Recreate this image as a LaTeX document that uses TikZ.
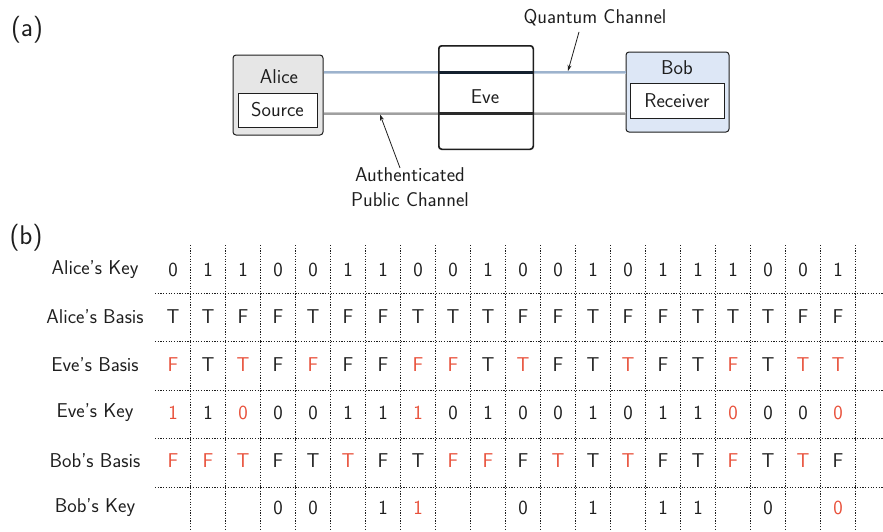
\documentclass[tikz,border=0pt]{standalone}
\usetikzlibrary{arrows.meta}

\definecolor{alicefill}{HTML}{E6E6E6}
\definecolor{bobfill}{HTML}{DDE7F6}
\definecolor{quantumline}{HTML}{9DB3CD}
\definecolor{classicline}{HTML}{A0A0A0}
\definecolor{quantumdark}{HTML}{14202E}
\definecolor{classicdark}{HTML}{2A2A2A}
\definecolor{errred}{HTML}{E8503A}
\definecolor{ink}{HTML}{1E1E1E}

% a table entry that differs from the sender's value
\newcommand\flip[1]{\textcolor{errred}{#1}}

% one row of the sifting table: id, y, label, values
\newcommand\tablerow[4]{%
  \node[rowlabel] (#1) at (95,#2) {#3};
  \foreach \v [count=\c] in {#4} {
    \node[cell] (#1-\c) at ({138+35*\c},#2) {\v};
  }
}

\begin{document}
\begin{tikzpicture}[x=1pt,y=-1pt,
  font=\sffamily\fontsize{20}{25}\selectfont, text=ink,
  party/.style={draw=ink, line width=1pt, rounded corners=3pt, inner sep=0pt},
  device/.style={draw=ink, fill=white, line width=0.9pt, inner sep=0pt},
  cell/.style={inner sep=0pt, anchor=center},
  rowlabel/.style={inner sep=0pt, anchor=center},
  gridline/.style={draw=ink, line width=0.85pt, dash pattern=on 1.2pt off 1.5pt},
  pointer/.style={draw=ink, line width=0.8pt, -{Stealth[length=6pt,width=4pt]}},
  panel/.style={font=\sffamily\fontsize{27}{30}\selectfont}]
\useasboundingbox (0,0) rectangle (883,531);

% ---------- (a) the QKD set-up ----------
\node[panel] (pa) at (27,30) {(a)};

\node[party, fill=alicefill, minimum width=90pt, minimum height=80pt] (alice) at (278,95) {};
\node (alicename) at (279,77) {Alice};
\node[device, minimum width=79pt, minimum height=34pt] (source) at (277.5,110) {Source};

\node[party, fill=bobfill, minimum width=103pt, minimum height=80pt] (bob) at (677.5,92) {};
\node (bobname) at (677,68) {Bob};
\node[device, minimum width=94pt, minimum height=35pt] (receiver) at (677,100.5) {Receiver};

\coordinate (qy) at (0,72);
\coordinate (cy) at (0,113.5);

% channels between Alice and Bob
\draw[quantumline!60, line width=3pt] (alice.east |- qy) -- (bob.west |- qy);
\draw[quantumline, line width=1.6pt] (alice.east |- qy) -- (bob.west |- qy);
\draw[classicline!60, line width=3.4pt] (alice.east |- cy) -- (bob.west |- cy);
\draw[classicline, line width=2pt] (alice.east |- cy) -- (bob.west |- cy);

% Eve sits on both channels
\node[party, fill=white, minimum width=94pt, minimum height=103pt] (eve) at (486,97.5) {};
\node (evename) at (485,97) {Eve};
\draw[quantumdark, line width=3pt] (eve.west |- qy) -- (eve.east |- qy);
\draw[classicdark, line width=3.2pt] (eve.west |- cy) -- (eve.east |- cy);
\draw[ink, line width=1pt, rounded corners=3pt] (eve.south west) rectangle (eve.north east);

% channel labels
\node (qlabel) at (595,18) {Quantum Channel};
\coordinate (qtip) at (568,71);
\draw[pointer] ([xshift=-16pt,yshift=-2pt]qlabel.south) -- (qtip);

\node[align=center] (plabel) at (410,187) {Authenticated\\Public Channel};
\coordinate (ptip) at (380,114.5);
\draw[pointer] ([xshift=-10pt,yshift=-4pt]plabel.north) -- (ptip);

% ---------- (b) the sifting table ----------
\node[panel] (pb) at (26,238) {(b)};

\foreach \k in {0,...,19}
  \draw[gridline] ({190+35*\k},245) -- ({190+35*\k},531);
\foreach \yy in {293,341,390,438,487}
  \draw[gridline] (155,\yy) -- (883,\yy);

\tablerow{akey}{270}{Alice's Key}{0,1,1,0,0,1,1,0,0,1,0,0,1,0,1,1,1,0,0,1}
\tablerow{abasis}{317}{Alice's Basis}{T,T,F,F,T,F,F,T,T,T,F,F,T,F,F,T,T,T,F,F}
\tablerow{ebasis}{365}{Eve's Basis}{\flip{F},T,\flip{T},F,\flip{F},F,F,\flip{F},\flip{F},T,\flip{T},F,T,\flip{T},F,T,\flip{F},T,\flip{T},\flip{T}}
\tablerow{ekey}{413}{Eve's Key}{\flip{1},1,\flip{0},0,0,1,1,\flip{1},0,1,0,0,1,0,1,1,\flip{0},0,0,\flip{0}}
\tablerow{bbasis}{461}{Bob's Basis}{\flip{F},\flip{F},\flip{T},F,T,\flip{T},F,T,\flip{F},\flip{F},F,\flip{T},T,\flip{T},F,T,\flip{F},T,\flip{T},F}
\tablerow{bkey}{508}{Bob's Key}{{},{},{},0,0,{},1,\flip{1},{},{},0,{},1,{},1,1,{},0,{},\flip{0}}
\end{tikzpicture}
\end{document}
